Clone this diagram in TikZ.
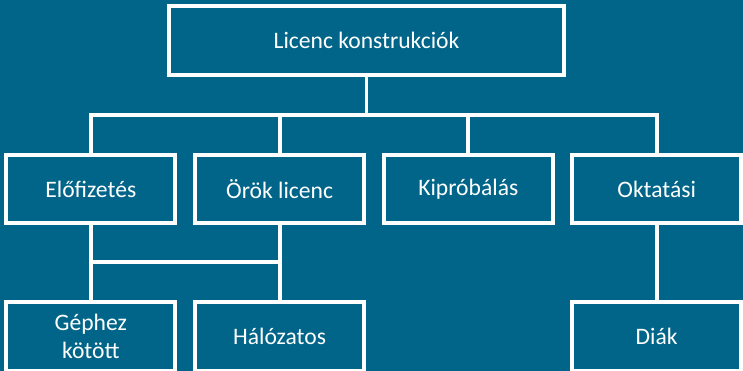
\documentclass[tikz,border=0pt]{standalone}
\usepackage{fontspec}
\setmainfont{Carlito}
\definecolor{bgteal}{RGB}{0,101,137}
\begin{document}
\begin{tikzpicture}[x=1pt,y=-1pt,
  box/.style={draw=white, fill=bgteal, line width=3.8pt, rectangle, inner sep=0pt,
    minimum width=169pt, minimum height=68.5pt, text=white, align=center,
    font=\fontsize{23.6}{28.3}\selectfont},
  conn/.style={draw=white, line width=3.8pt}]
\fill[bgteal] (0,0) rectangle (743,371);
\useasboundingbox (0,0) rectangle (743,371);
\node[box, minimum width=395pt, minimum height=69pt] (top) at (366.5,40.5) {Licenc konstrukciók};
\node[box] (elo) at (90.8,189) {Előfizetés};
\node[box] (oro) at (279.6,189) {Örök licenc};
\node[box] (kip) at (468.3,189) {Kipróbálás};
\node[box] (okt) at (656.7,189) {Oktatási};
\node[box] (gep) at (90.8,336.3) {Géphez\\kötött};
\node[box] (hal) at (279.6,336.3) {Hálózatos};
\node[box] (dia) at (656.7,336.3) {Diák};
\coordinate (busa) at (0,115.3);
\coordinate (busb) at (0,262);
\draw[conn] (top.south) -- (top.south |- busa);
\draw[conn] (top.south |- busa) -| (elo.north);
\draw[conn] (top.south |- busa) -| (oro.north);
\draw[conn] (top.south |- busa) -| (kip.north);
\draw[conn] (top.south |- busa) -| (okt.north);
\draw[conn] (elo.south) -- (gep.north);
\draw[conn] (oro.south) -- (hal.north);
\draw[conn] (elo.south |- busb) -- (oro.south |- busb);
\draw[conn] (okt.south) -- (dia.north);
\end{tikzpicture}
\end{document}
